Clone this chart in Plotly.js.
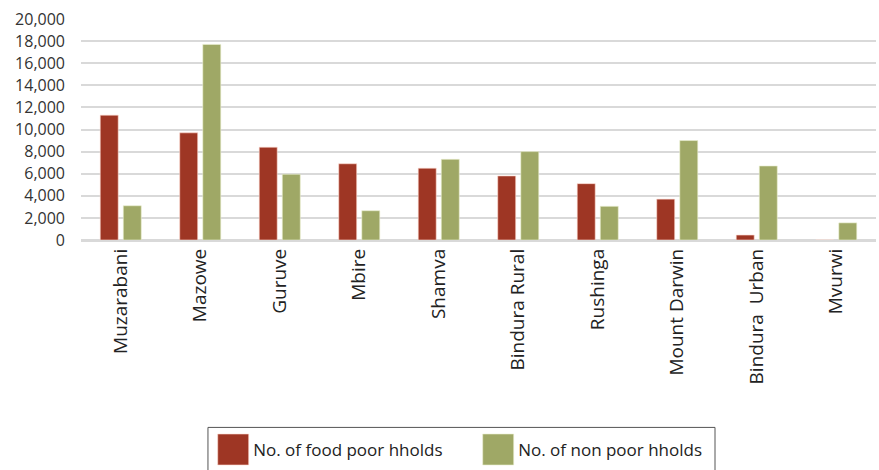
<!DOCTYPE html>
<html>
<head>
<meta charset="utf-8">
<script src="https://cdn.plot.ly/plotly-3.0.1.min.js"></script>
<style>html,body{margin:0;padding:0;background:#fff;}#chart{width:879px;height:470px;}</style>
</head>
<body>
<div id="chart"></div>
<script>
const districts = ["Muzarabani", "Mazowe", "Guruve", "Mbire", "Shamva", "Bindura Rural", "Rushinga", "Mount Darwin", "Bindura  Urban", "Mvurwi"];
const foodPoor = [11300, 9700, 8400, 6900, 6500, 5800, 5100, 3700, 450, 0];
const nonPoor = [3100, 17700, 5950, 2650, 7300, 8000, 3050, 9000, 6700, 1550];
const yTickVals = [0, 2000, 4000, 6000, 8000, 10000, 12000, 14000, 16000, 18000, 20000];

const font = "'Open Sans', 'DejaVu Sans', sans-serif";
const traces = [
  {type: "bar", name: "No. of food poor hholds", x: districts, y: foodPoor,
   marker: {color: "#9e3624", line: {color: "rgba(255,220,210,0.6)", width: 1}}},
  {type: "bar", name: "No. of non poor hholds", x: districts, y: nonPoor,
   marker: {color: "#9fa866", line: {color: "rgba(235,240,210,0.6)", width: 1}}}
];
const layout = {
  width: 879, height: 470,
  margin: {l: 81, r: 3, t: 19, b: 230},
  paper_bgcolor: "#fff", plot_bgcolor: "#fff",
  barmode: "group", bargap: 0.42, bargroupgap: 0.22,
  font: {family: font, color: "#333", size: 16},
  showlegend: true,
  legend: {orientation: "h", x: 0.1663, xanchor: "left", y: -0.95, yanchor: "middle",
           font: {family: font, size: 17, color: "#222"}, borderwidth: 0, bgcolor: "rgba(0,0,0,0)",
           entrywidth: 220, itemclick: false},
  shapes: [{type: "rect", xref: "paper", yref: "paper", x0: 0.1597, x1: 0.7975, y0: -0.848, y1: -1.2,
            line: {color: "#555", width: 1}, fillcolor: "rgba(0,0,0,0)"}],
  xaxis: {type: "category", tickangle: -90, tickfont: {family: font, size: 19, color: "#222"},
          showgrid: false, showline: false, ticks: "", ticklabelstandoff: 4, fixedrange: true},
  yaxis: {range: [0, 20000], tickvals: yTickVals, tickformat: ",d", showgrid: true,
          gridcolor: "#d9d9d9", gridwidth: 2, zeroline: true, zerolinecolor: "#d9d9d9", zerolinewidth: 3,
          tickfont: {family: font, size: 16, color: "#333"}, ticklabelstandoff: 15, fixedrange: true}
};
Plotly.newPlot("chart", traces, layout, {displayModeBar: false, staticPlot: true}).then(function(gd){
  document.querySelectorAll('.legendpoints path').forEach(function(p){ p.setAttribute('d','M15.5,15.5H-15.5V-15.5H15.5Z'); });
});
</script>
</body>
</html>
